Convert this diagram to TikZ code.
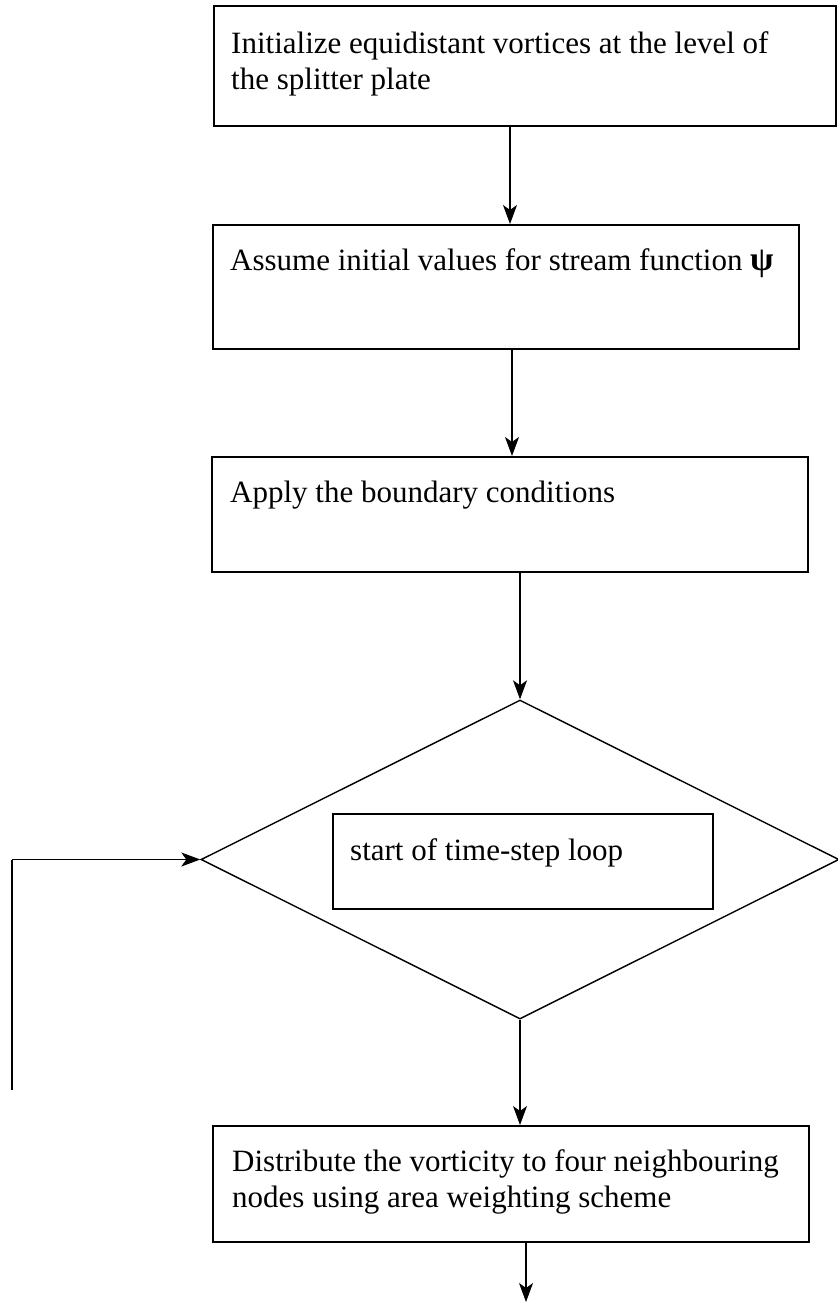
\documentclass[tikz,border=0pt]{standalone}
\usepackage{fontspec}
\setmainfont{Liberation Serif}
\usetikzlibrary{shapes.geometric,arrows.meta}

\begin{document}
\begin{tikzpicture}[x=1bp,y=-1bp,
  font=\fontsize{31bp}{36bp}\selectfont,
  stepbox/.style={draw, line width=1.8bp, inner sep=0pt, anchor=north west},
  boxtext/.style={anchor=base west, inner sep=0pt},
  flow/.style={line width=1.1bp, -{Stealth[length=19bp, width=14bp, inset=5bp]}},
  link/.style={line width=1.1bp}]

  \useasboundingbox (0,0) rectangle (837,1306);

  % process boxes (top-left corner, size)
  \node[stepbox, minimum width=622bp, minimum height=120bp] (b1) at (213,5) {};
  \node[stepbox, minimum width=586bp, minimum height=124bp] (b2) at (212,224) {};
  \node[stepbox, minimum width=596bp, minimum height=115bp] (b3) at (211,456) {};
  \node[stepbox, minimum width=596bp, minimum height=116bp] (b5) at (212,1125) {};

  % decision diamond with the loop-start box inside
  \node[draw, diamond, line width=1.4bp, inner sep=0pt,
        minimum width=638bp, minimum height=319bp] (d) at (520,859.5) {};
  \node[stepbox, minimum width=380bp, minimum height=95bp] (b4) at (332,813) {};

  % box texts
  \node[boxtext] (t1) at (231,54) {\parbox[t]{600bp}{\raggedright
    Initialize equidistant vortices at the level of\\ the splitter plate}};
  \node[boxtext] (t2) at (230,271) {Assume initial values for stream function
    \textbf{\fontsize{34bp}{36bp}\selectfont ψ}};
  \node[boxtext] (t3) at (230,502) {Apply the boundary conditions};
  \node[boxtext] (t4) at (350,860) {start of time-step loop};
  \node[boxtext] (t5) at (232,1171) {\parbox[t]{600bp}{\raggedright
    Distribute the vorticity to four neighbouring\\ nodes using area weighting scheme}};

  % connector anchors
  \coordinate (x1) at (510,0);
  \coordinate (x2) at (512,0);
  \coordinate (x5) at (526,0);
  \coordinate (out) at (526,1302);
  \coordinate (loopbot) at (12,1090);

  % straight-down connectors
  \draw[flow] (b1.south -| x1) -- (b2.north -| x1);
  \draw[flow] (b2.south -| x2) -- (b3.north -| x2);
  \draw[flow] (b3.south -| d.north) -- (d.north);
  \draw[flow] (d.south) -- (b5.north -| d.south);
  \draw[flow] (b5.south -| x5) -- (out);

  % loop return into the diamond
  \draw[link] (loopbot) -- (loopbot |- d.west);
  \draw[flow] (loopbot |- d.west) -- (d.west);
\end{tikzpicture}
\end{document}
